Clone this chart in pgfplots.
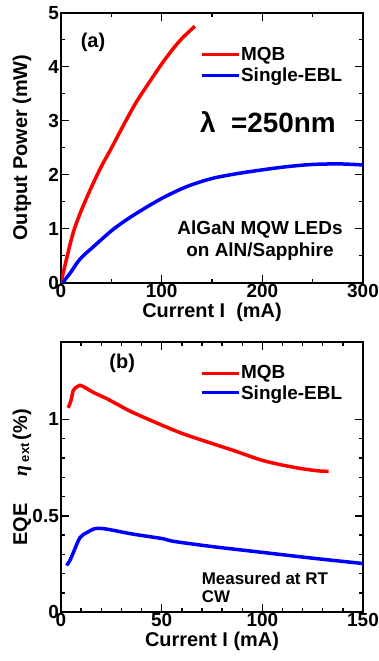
\documentclass[border=0pt]{standalone}
\usepackage{fontspec}
\setmainfont{Liberation Sans}
\newfontfamily\seriffont{Liberation Serif}
\usepackage{pgfplots}
\pgfplotsset{compat=1.18}
\definecolor{myred}{RGB}{255,0,0}
\definecolor{myblue}{RGB}{0,0,255}
\pgfplotsset{
  myaxis/.style={
    scale only axis, width=302bp, height=270bp,
    axis line style={line width=1.8bp},
    tick style={line width=1.4bp, black},
    major tick length=8bp, minor tick length=4bp,
    tick align=inside, tick pos=both,
    /pgf/number format/assume math mode=true,
    ticklabel style={font=\fontsize{19}{22}\selectfont\bfseries},
    xticklabel style={inner sep=1bp},
    yticklabel style={inner sep=2bp},
    label style={font=\fontsize{20}{24}\selectfont\bfseries},
    xlabel style={at={(axis description cs:0.5,-0.108)}, anchor=center},
    ylabel style={at={(axis description cs:-0.129,0.5)}, anchor=center},
    legend cell align=left,
    legend image code/.code={\draw[#1, line width=3bp] (0bp,0bp) -- (37bp,0bp);},
  }
}
\begin{document}
\begin{tikzpicture}
\useasboundingbox (0,0) rectangle (379bp,661bp);
% panel (a)
\begin{axis}[myaxis, at={(61bp,378.3bp)}, anchor=south west,
  xmin=0, xmax=300, ymin=0, ymax=5,
  xtick={0,100,200,300}, minor x tick num=1,
  ytick={0,1,2,3,4,5}, minor y tick num=1,
  xlabel={Current I\ \ (mA)}, ylabel={Output Power (mW)},
  legend style={draw=none, fill=none, at={(axis cs:138,4.39)}, anchor=north west,
    font=\fontsize{19}{22}\selectfont\bfseries, inner sep=0pt, row sep=4bp,
    nodes={inner sep=1bp}},
]
\addplot[myred, line width=3.5bp, smooth] coordinates {
(0,0) (5,0.4) (12,0.92) (20,1.33) (30,1.76) (40,2.15) (50,2.49) (63,2.95) (75,3.35) (88,3.72) (100,4.05) (110,4.30) (120,4.52) (133,4.75)};
\addlegendentry{MQB}
\addplot[myblue, line width=3.5bp, smooth] coordinates {
(2,0) (5,0.08) (10,0.2) (19,0.44) (33,0.68) (52,0.99) (72,1.25) (100,1.56) (125,1.78) (150,1.93) (175,2.02) (200,2.09) (225,2.15) (250,2.19) (275,2.20) (290,2.19) (300,2.18)};
\addlegendentry{Single-EBL}
\node[font=\fontsize{20}{24}\selectfont\bfseries] at (axis cs:31.8,4.46) {(a)};
\node[font=\fontsize{28}{32}\selectfont\bfseries] at (axis cs:205.6,2.98) {λ\ \ =250nm};
\node[font=\fontsize{19}{22}\selectfont\bfseries, align=center] at (axis cs:197.7,0.772) {AlGaN MQW LEDs\\on AlN/Sapphire};
\end{axis}
% panel (b)
\begin{axis}[myaxis, at={(61bp,48.7bp)}, anchor=south west,
  xmin=0, xmax=150, ymin=0, ymax=1.4,
  xtick={0,50,100,150}, minor x tick num=4,
  ytick={0,0.5,1}, yticklabels={0,0.5,1}, minor y tick num=4,
  xlabel={Current I (mA)},
  ylabel={EQE\hspace{1.35em}{\seriffont\itshape\bfseries η}\,\raisebox{-2bp}{\fontsize{13}{14}\selectfont ext}\,(\%)},
  legend style={draw=none, fill=none, at={(axis cs:69,1.285)}, anchor=north west,
    font=\fontsize{19}{22}\selectfont\bfseries, inner sep=0pt, row sep=3bp,
    nodes={inner sep=1bp}},
]
\addplot[myred, line width=3.5bp, smooth] coordinates {
(3.6,1.06) (5,1.10) (6.1,1.15) (8,1.17) (9.4,1.177) (12,1.165) (16.1,1.14) (22.7,1.108) (27.7,1.08) (33.5,1.047) (40.9,1.012) (50.4,0.969) (60.8,0.925) (75.7,0.873) (85.7,0.839) (100.6,0.786) (115.5,0.752) (127.1,0.734) (132.9,0.731)};
\addlegendentry{MQB}
\addplot[myblue, line width=3.5bp, smooth] coordinates {
(2.8,0.243) (4.5,0.27) (6.1,0.309) (9.4,0.387) (12.8,0.413) (16.9,0.434) (21,0.434) (26,0.425) (36,0.405) (50.4,0.382) (55.9,0.368) (75.7,0.340) (100.6,0.31) (125.5,0.28) (150,0.253)};
\addlegendentry{Single-EBL}
\node[font=\fontsize{20}{24}\selectfont\bfseries] at (axis cs:30.4,1.293) {(b)};
\node[font=\fontsize{17}{18}\selectfont\bfseries, align=left, anchor=west] at (axis cs:68.2,0.129) {Measured at RT\\CW};
\end{axis}
\end{tikzpicture}
\end{document}
